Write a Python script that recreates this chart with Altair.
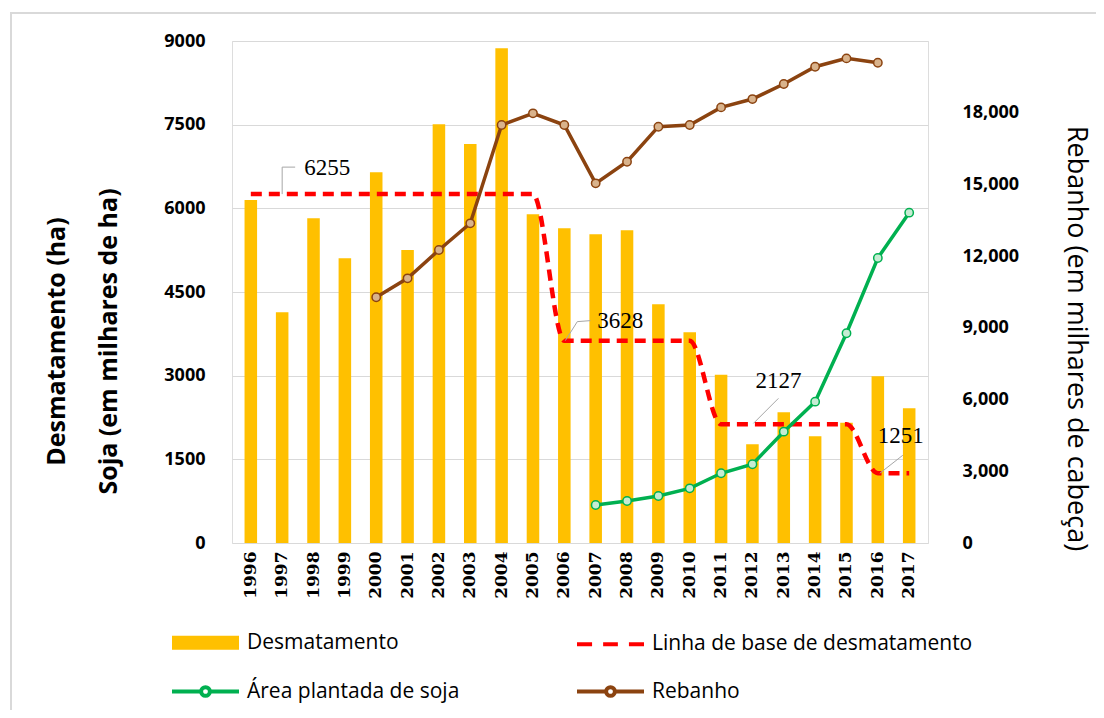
import altair as alt
import pandas as pd

# ---------------- data ----------------
years = [str(y) for y in range(1996, 2018)]
desmatamento = [6150, 4136, 5822, 5105, 6647, 5254, 7507, 7154, 8870, 5894, 5643,
                5535, 5607, 4280, 3778, 3018, 1770, 2343, 1913, 2157, 2989, 2415]
linha_base = [6255, 6255, 6255, 6255, 6255, 6255, 6255, 6255, 6255, 6255,
              3628, 3628, 3628, 3628, 3628,
              2127, 2127, 2127, 2127, 2127,
              1251, 1251]
soja_years = [str(y) for y in range(2007, 2018)]
soja = [681, 753, 843, 980, 1250, 1411, 1996, 2534, 3760, 5110, 5922]
rebanho_years = [str(y) for y in range(2000, 2017)]
rebanho = [10280, 11072, 12256, 13372, 17485, 17973, 17485, 15045, 15951, 17415,
           17485, 18223, 18571, 19199, 19924, 20273, 20092]
label_years = ["1997", "2006", "2012", "2016"]
label_values = [6255, 3628, 2127, 1251]
# legend entries (filled column by column)
series = ["Desmatamento", "Área plantada de soja", "Linha de base de desmatamento", "Rebanho"]

# ---------------- styles ----------------
YELLOW = "#FFC000"
RED = "#FF0000"
GREEN = "#00B050"
BROWN = "#8B4310"
GRID = "#d9d9d9"
FONT = "Open Sans"

df_bar = pd.DataFrame({"ano": years, "v": desmatamento, "base": linha_base})
df_soja = pd.DataFrame({"ano": soja_years, "v": soja})
df_reb = pd.DataFrame({"ano": rebanho_years, "v": rebanho})
df_lab = pd.DataFrame({"ano": label_years, "v": label_values, "t": [str(v) for v in label_values]})
df_leg = pd.DataFrame({"s": series})

x_enc = alt.X("ano:O", title=None,
              scale=alt.Scale(paddingInner=0.6, paddingOuter=0.4),
              axis=alt.Axis(labelAngle=270, labelFont="DejaVu Serif", labelFontWeight="bold",
                            labelFontSize=17, labelColor="#000", ticks=False, domain=False,
                            labelPadding=8))

left_scale = alt.Scale(domain=[0, 9000])
y_left = alt.Y("v:Q", scale=left_scale,
               axis=alt.Axis(values=[0, 1500, 3000, 4500, 6000, 7500, 9000], format="d",
                             title=["Desmatamento (ha)", "Soja (em milhares de ha)"],
                             grid=True, gridColor=GRID, gridWidth=1.2,
                             domain=False, ticks=False,
                             labelFont=FONT, labelFontSize=18, labelFontWeight="bold",
                             labelColor="#000", labelPadding=27,
                             titleFont=FONT, titleFontSize=25, titleFontWeight="bold",
                             titleColor="#000", titleAngle=270, titleLineHeight=52,
                             titleBaseline="middle", titleX=-176, titleY=300))

bars = alt.Chart(df_bar).mark_bar(color=YELLOW).encode(x=x_enc, y=y_left)

base_line = alt.Chart(df_bar).mark_line(color=RED, strokeWidth=4.5, strokeDash=[11, 7],
                                        interpolate="monotone").encode(
    x="ano:O", y=alt.Y("base:Q", scale=left_scale))

soja_line = alt.Chart(df_soja).mark_line(
    color=GREEN, strokeWidth=3.5,
    point=alt.OverlayMarkDef(shape="circle", size=70, filled=True, fill="#c6ecd3",
                             stroke=GREEN, strokeWidth=1.5)).encode(
    x="ano:O", y=alt.Y("v:Q", scale=left_scale))

# data labels with leader lines
label_offsets = [(22, -26), (33, -20), (3, -43), (0, -37)]
leader_paths = [
    [(0, 0), (0, -27), (13, -27)],
    [(1, 0), (13, -19), (26, -20)],
    [(1, -1), (26, -26)],
    [(2, 0), (25, -18)],
]
label_layers = []
for i, yr in enumerate(label_years):
    sub = alt.Chart(df_lab).transform_filter(alt.datum.ano == yr)
    dx, dy = label_offsets[i]
    label_layers.append(sub.mark_text(align="left", baseline="middle", dx=dx, dy=dy,
                                      font="Liberation Serif", fontSize=23, color="#000").encode(
        x="ano:O", y=alt.Y("v:Q", scale=left_scale), text="t:N"))
    pts = leader_paths[i]
    for (ax, ay), (bx, by) in zip(pts[:-1], pts[1:]):
        label_layers.append(sub.mark_rule(color="#a6a6a6", strokeWidth=1,
                                          xOffset=ax, yOffset=ay, x2Offset=bx, y2Offset=by).encode(
            x="ano:O", x2="ano:O", y=alt.Y("v:Q", scale=left_scale), y2="v:Q"))

# legend (drawn by Vega's legend from a shape/color scale)
shape_paths = [
    "M-1,-0.15H1M-1,-0.05H1M-1,0.05H1M-1,0.15H1",
    "M-1,0H-0.15M0.15,0H1M0.13,0A0.13,0.13 0 1,1 -0.13,0A0.13,0.13 0 1,1 0.13,0",
    "M-1,0H-0.55M-0.22,0H0.22M0.55,0H1",
    "M-1,0H-0.15M0.15,0H1M0.13,0A0.13,0.13 0 1,1 -0.13,0A0.13,0.13 0 1,1 0.13,0",
]
leg = alt.Legend(title=None, orient="none", legendX=-62, legendY=566, columns=2,
                 columnPadding=109, rowPadding=-2, labelFont=FONT, labelFontSize=21,
                 labelColor="#000", labelLimit=500, labelOffset=6,
                 symbolSize=4489, symbolStrokeWidth=4)
legend_layer = alt.Chart(df_leg).mark_point(opacity=0, filled=False).encode(
    color=alt.Color("s:N", scale=alt.Scale(domain=series, range=[YELLOW, GREEN, RED, BROWN]),
                    legend=leg),
    shape=alt.Shape("s:N", scale=alt.Scale(domain=series, range=shape_paths), legend=leg),
)

border = alt.Chart(alt.Data(values=[{}])).mark_rect(fill=None, stroke=GRID, strokeWidth=2).encode(
    x=alt.value(-221), x2=alt.value(880), y=alt.value(-28), y2=alt.value(690))

left = alt.layer(bars, base_line, soja_line, *label_layers, legend_layer, border)

right = alt.Chart(df_reb).mark_line(
    color=BROWN, strokeWidth=3.5,
    point=alt.OverlayMarkDef(shape="circle", size=70, filled=True, fill="#d9b38c",
                             stroke=BROWN, strokeWidth=1.5)).encode(
    x="ano:O",
    y=alt.Y("v:Q", scale=alt.Scale(domain=[0, 21000]),
            axis=alt.Axis(orient="right", values=[0, 3000, 6000, 9000, 12000, 15000, 18000],
                          format=",.0f", grid=False, domain=False, ticks=False,
                          labelFont=FONT, labelFontSize=18, labelFontWeight="bold",
                          labelColor="#000", labelPadding=34, labelAlign="left",
                          title="Rebanho (em milhares de cabeça)",
                          titleFont=FONT, titleFontSize=27, titleFontWeight="normal",
                          titleColor="#000", titleAngle=90, titleBaseline="middle",
                          titleX=147, titleY=297)))

chart = alt.layer(left, right).resolve_scale(y="independent").properties(
    width=696, height=502,
    autosize=alt.AutoSizeParams(type="none"),
    padding={"left": 224, "top": 33, "right": 168, "bottom": 167},
).configure_view(stroke=None).configure(background="white")

chart.save("out.html", embed_options={"renderer": "svg", "actions": False})
